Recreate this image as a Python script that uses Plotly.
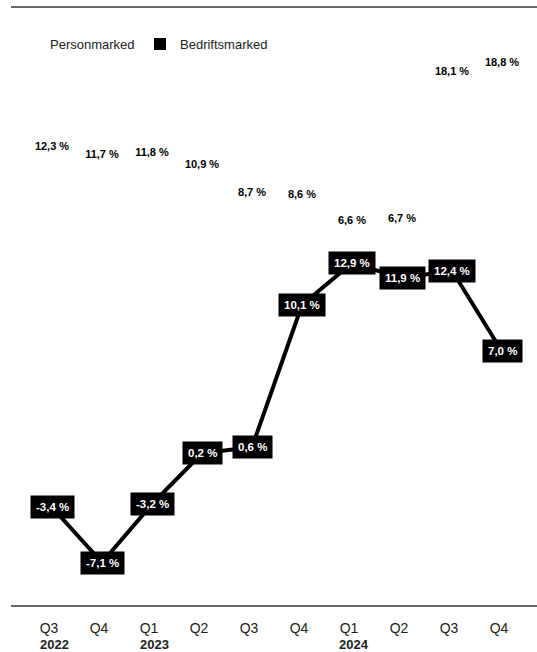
import plotly.graph_objects as go

quarters = ["Q3", "Q4", "Q1", "Q2", "Q3", "Q4", "Q1", "Q2", "Q3", "Q4"]
years = ["2022", "", "2023", "", "", "", "2024", "", "", ""]
personmarked = [12.3, 11.7, 11.8, 10.9, 8.7, 8.6, 6.6, 6.7, 18.1, 18.8]
bedriftsmarked = [-3.4, -7.1, -3.2, 0.2, 0.6, 10.1, 12.9, 11.9, 12.4, 7.0]

x = list(range(len(quarters)))


def fmt(v):
    return f"{v:.1f}".replace(".", ",") + " %"


FONT = "Liberation Sans, Arial, sans-serif"

fig = go.Figure()

# Personmarked: invisible line, only labels (secondary axis)
fig.add_trace(go.Scatter(
    x=x, y=personmarked, yaxis="y2", mode="text",
    text=[fmt(v) for v in personmarked], textposition="middle center",
    textfont=dict(family=FONT, size=11, color="#000000", weight="bold"),
    showlegend=False, hoverinfo="skip",
))

# Bedriftsmarked line
fig.add_trace(go.Scatter(
    x=x, y=bedriftsmarked, mode="lines",
    line=dict(color="#000000", width=4),
    showlegend=False, hoverinfo="skip",
))

# legend entries
fig.add_trace(go.Scatter(
    x=[None], y=[None], mode="markers", name="Personmarked", legend="legend",
    marker=dict(symbol="square", size=12, color="#ffffff"),
))
fig.add_trace(go.Scatter(
    x=[None], y=[None], mode="markers", name="Bedriftsmarked", legend="legend2",
    marker=dict(symbol="square", size=12, color="#000000"),
))

annotations = []
for xi, v in zip(x, bedriftsmarked):
    annotations.append(dict(
        x=xi, y=v, xref="x", yref="y", text="<b>" + fmt(v) + "</b>",
        showarrow=False, bgcolor="#000000", borderpad=5,
        font=dict(family=FONT, size=11.5, color="#ffffff"),
    ))
for xi, yr in zip(x, years):
    if yr:
        annotations.append(dict(
            x=xi, y=-0.0651, xref="x", yref="paper", text="<b>" + yr + "</b>",
            showarrow=False, yanchor="middle", xshift=2,
            font=dict(family=FONT, size=13, color="#222222"),
        ))

shapes = [
    dict(type="line", xref="paper", yref="paper", x0=-0.032, x1=1.02, y0=1, y1=1,
         line=dict(color="#333333", width=1.3)),
    dict(type="line", xref="paper", yref="paper", x0=-0.032, x1=1.02, y0=0, y1=0,
         line=dict(color="#333333", width=1.3)),
]

legend_common = dict(orientation="h", yanchor="middle", y=0.938, xanchor="left",
                     font=dict(family=FONT, size=13, color="#222222"),
                     itemwidth=30, bgcolor="rgba(0,0,0,0)")

fig.update_layout(
    width=537, height=652,
    margin=dict(l=27, r=10, t=7, b=46),
    paper_bgcolor="#ffffff", plot_bgcolor="#ffffff",
    font=dict(family=FONT, size=12, color="#222222"),
    showlegend=True,
    legend=dict(x=-0.034, **legend_common),
    legend2=dict(x=0.226, **legend_common),
    xaxis=dict(range=[-0.5, 9.5], tickvals=x, ticktext=quarters, showgrid=False,
               zeroline=False, showline=False, ticks="", ticklabelstandoff=12,
               ticklabelshift=-3,
               tickfont=dict(family=FONT, size=14, color="#222222"), fixedrange=True),
    yaxis=dict(range=[-10, 30], visible=False, showgrid=False, zeroline=False,
               fixedrange=True),
    yaxis2=dict(range=[-23.1, 23.1], overlaying="y", visible=False, showgrid=False,
                zeroline=False, fixedrange=True),
    annotations=annotations,
    shapes=shapes,
)

fig.write_html(
    "out.html",
    config={"displayModeBar": False},
    post_script="document.body.style.margin='0';document.body.style.overflow='hidden';",
)
